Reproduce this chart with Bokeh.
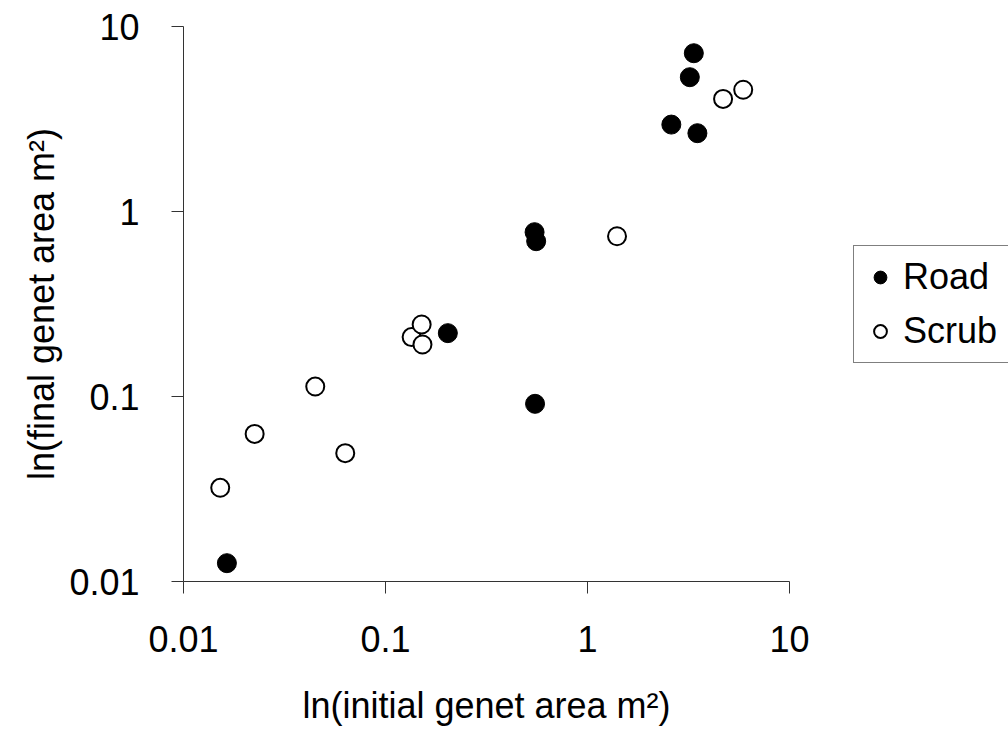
from bokeh.plotting import figure
from bokeh.models import Legend, LegendItem, FixedTicker, CustomJSTickFormatter
from bokeh.embed import file_html
from bokeh.resources import INLINE

# Data
road_initial = [0.0164, 0.2035, 0.547, 0.557, 0.550, 2.60, 3.21, 3.36, 3.50]
road_final = [0.01256, 0.220, 0.773, 0.691, 0.0913, 2.95, 5.32, 7.17, 2.65]

scrub_initial = [0.0152, 0.0225, 0.0449, 0.0632, 0.1347, 0.151, 0.1524, 1.40, 4.69, 5.90]
scrub_final = [0.0321, 0.0628, 0.1132, 0.0494, 0.2094, 0.245, 0.191, 0.735, 4.06, 4.55]

tick_values = [0.01, 0.1, 1, 10]
x_label = "ln(initial genet area m\u00b2)"
y_label = "ln(final genet area m\u00b2)"
series_names = ["Road", "Scrub"]

FONT = "Liberation Sans"

p = figure(width=1008, height=747, x_axis_type="log", y_axis_type="log",
           x_range=(0.01, 10), y_range=(0.01, 10),
           output_backend="svg", toolbar_location=None,
           min_border_left=183, min_border_right=219,
           min_border_top=26, min_border_bottom=166)
p.frame_width = 606
p.frame_height = 555

p.outline_line_color = None
p.xgrid.visible = False
p.ygrid.visible = False
p.background_fill_color = "white"
p.border_fill_color = "white"

fmt = CustomJSTickFormatter(code="return String(Number(tick.toPrecision(3)));")
for ax in (p.xaxis[0], p.yaxis[0]):
    ax.ticker = FixedTicker(ticks=tick_values)
    ax.formatter = fmt
    ax.minor_tick_line_color = None
    ax.major_tick_in = 0
    ax.major_tick_out = 12
    ax.axis_line_color = "#333333"
    ax.major_tick_line_color = "#333333"
    ax.major_label_text_font = FONT
    ax.major_label_text_font_size = "36px"
    ax.major_label_text_color = "black"
    ax.major_label_standoff = 32
    ax.axis_label_text_font = FONT
    ax.axis_label_text_font_size = "36px"
    ax.axis_label_text_font_style = "normal"
    ax.axis_label_text_color = "black"

p.xaxis.axis_label = x_label
p.yaxis.axis_label = y_label
p.xaxis.axis_label_standoff = 30
p.yaxis.axis_label_standoff = 4

r_road = p.scatter(road_initial, road_final, size=19, marker="circle",
                   fill_color="black", line_color="black", line_width=1)
r_scrub = p.scatter(scrub_initial, scrub_final, size=18, marker="circle",
                    fill_color="white", line_color="black", line_width=2)

legend = Legend(items=[LegendItem(label=series_names[0], renderers=[r_road]),
                       LegendItem(label=series_names[1], renderers=[r_scrub])],
                location=(64, 218))
legend.glyph_width = 32
legend.glyph_height = 32
legend.label_height = 32
legend.label_width = 112
legend.spacing = 12
legend.padding = 10
legend.label_standoff = 7
legend.margin = 0
legend.label_text_font = FONT
legend.label_text_font_size = "36px"
legend.label_text_color = "black"
legend.border_line_color = "black"
legend.border_line_width = 1.5
legend.background_fill_color = "white"
legend.background_fill_alpha = 1
p.add_layout(legend, "right")

open("out.html", "w").write(file_html(p, INLINE))
